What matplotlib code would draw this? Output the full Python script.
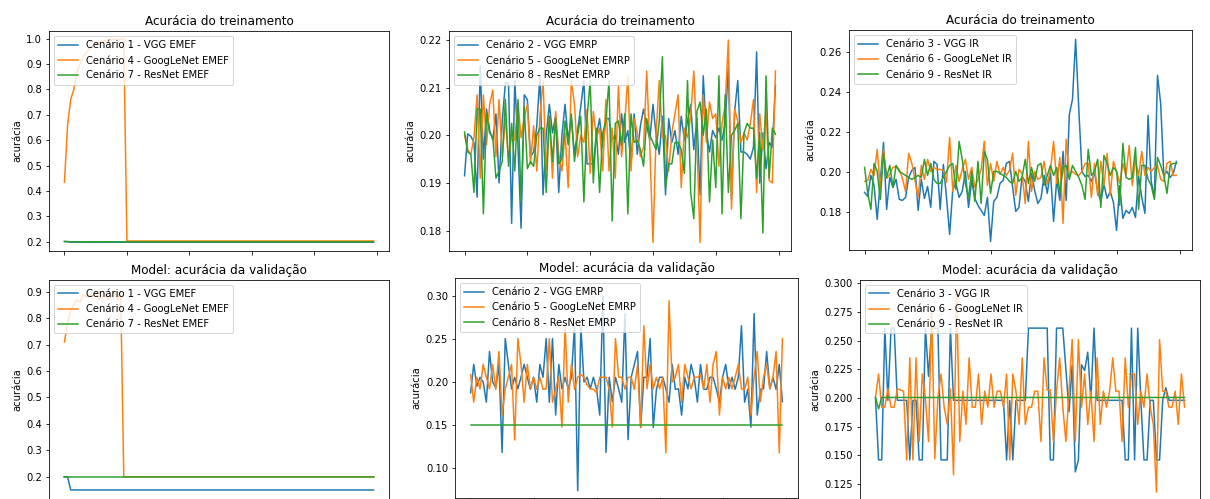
import matplotlib

matplotlib.use("Agg")
import matplotlib.pyplot as plt

# ---- training accuracy, EMEF ----
vgg_emef_train = [0.2010, 0.2000] + [0.1985] * 98
googlenet_emef_train = [
    0.435, 0.660, 0.760, 0.800, 0.870, 0.900, 0.925, 0.945, 0.960, 0.970,
    0.980, 0.985, 0.990, 0.992, 0.995, 0.996, 0.997, 0.998, 0.999, 0.999,
] + [0.2035] * 80
resnet_emef_train = [0.2020, 0.2015, 0.2005] + [0.2000] * 97

# ---- training accuracy, EMRP ----
vgg_emrp_train = [
    0.1915, 0.2003, 0.1998, 0.1985, 0.1870, 0.2145, 0.1950, 0.2055, 0.2010, 0.1990,
    0.2045, 0.1900, 0.2030, 0.2110, 0.2110, 0.1815, 0.2115, 0.1980, 0.1805, 0.2085,
    0.2075, 0.1955, 0.1965, 0.2020, 0.2125, 0.1875, 0.2000, 0.2065, 0.2005, 0.2040,
    0.1880, 0.2000, 0.2065, 0.1990, 0.2035, 0.1960, 0.2010, 0.2060, 0.2115, 0.1940,
    0.1940, 0.1940, 0.2000, 0.2035, 0.1975, 0.2035, 0.2035, 0.1990, 0.2000, 0.1960,
    0.2045, 0.1985, 0.2010, 0.1940, 0.2045, 0.1960, 0.2020, 0.2055, 0.2020, 0.1990,
    0.2065, 0.2000, 0.1960, 0.2040, 0.1875, 0.2035, 0.1985, 0.2010, 0.1960, 0.2040,
    0.1990, 0.2030, 0.2065, 0.1970, 0.2035, 0.1875, 0.2125, 0.2005, 0.1965, 0.2010,
    0.1995, 0.2015, 0.1990, 0.2025, 0.2145, 0.1865, 0.2050, 0.2115, 0.1965, 0.1965,
    0.1960, 0.1950, 0.1975, 0.2175, 0.1900, 0.2005, 0.1930, 0.1985, 0.1975, 0.2105,
]
googlenet_emrp_train = [
    0.2000, 0.1970, 0.1960, 0.1995, 0.2085, 0.1910, 0.2085, 0.1980, 0.2065, 0.2095,
    0.1955, 0.2075, 0.1955, 0.2035, 0.1950, 0.2000, 0.1990, 0.2070, 0.1995, 0.2035,
    0.2065, 0.1940, 0.2020, 0.1925, 0.2040, 0.2115, 0.1925, 0.2040, 0.1910, 0.2050,
    0.1960, 0.1925, 0.2005, 0.1890, 0.2115, 0.2065, 0.1955, 0.2000, 0.1985, 0.2055,
    0.1920, 0.2050, 0.1995, 0.2015, 0.1925, 0.2075, 0.1925, 0.2015, 0.1910, 0.2105,
    0.1955, 0.2025, 0.2125, 0.1925, 0.2035, 0.2005, 0.1955, 0.1975, 0.2135, 0.1975,
    0.1775, 0.2005, 0.2115, 0.1995, 0.2000, 0.1925, 0.2005, 0.2045, 0.2085, 0.1890,
    0.2015, 0.1995, 0.2040, 0.2135, 0.1985, 0.1775, 0.2085, 0.1985, 0.2070, 0.2035,
    0.2045, 0.1935, 0.2025, 0.2065, 0.2200, 0.1845, 0.2055, 0.2030, 0.1985, 0.2005,
    0.1990, 0.2025, 0.2075, 0.1880, 0.2045, 0.1970, 0.2055, 0.1905, 0.1900, 0.2135,
]
resnet_emrp_train = [
    0.2007, 0.1965, 0.1960, 0.1880, 0.2055, 0.2055, 0.1835, 0.2045, 0.2005, 0.1995,
    0.1910, 0.1925, 0.1945, 0.2075, 0.1935, 0.2025, 0.1925, 0.2075, 0.1860, 0.2060,
    0.1930, 0.1945, 0.1935, 0.2000, 0.2015, 0.2015, 0.1880, 0.2040, 0.1945, 0.2035,
    0.1940, 0.1950, 0.2030, 0.1980, 0.2045, 0.1945, 0.2000, 0.2040, 0.1860, 0.2035,
    0.2115, 0.1900, 0.2015, 0.1880, 0.2005, 0.2030, 0.2115, 0.1820, 0.2025, 0.2030,
    0.1980, 0.2045, 0.1835, 0.2045, 0.1985, 0.1990, 0.1970, 0.1935, 0.2035, 0.2000,
    0.1985, 0.1970, 0.2030, 0.2165, 0.1890, 0.1940, 0.1940, 0.1985, 0.1985, 0.1970,
    0.1920, 0.2115, 0.1880, 0.1825, 0.2050, 0.2070, 0.2000, 0.2055, 0.1860, 0.1990,
    0.1890, 0.2125, 0.1835, 0.2085, 0.1880, 0.2000, 0.2010, 0.2025, 0.1825, 0.2005,
    0.2025, 0.2015, 0.2015, 0.1910, 0.2005, 0.1795, 0.2125, 0.1910, 0.2015, 0.2002,
]

# ---- training accuracy, IR ----
vgg_ir_train = [
    0.1900, 0.1880, 0.1985, 0.1935, 0.1765, 0.1960, 0.2150, 0.1815, 0.1975, 0.1925,
    0.1965, 0.1865, 0.1860, 0.1875, 0.1975, 0.2010, 0.2025, 0.1810, 0.1965, 0.1870,
    0.1930, 0.1825, 0.2055, 0.2040, 0.1815, 0.2040, 0.1875, 0.1690, 0.1915, 0.1945,
    0.1875, 0.1905, 0.2005, 0.1825, 0.1960, 0.1870, 0.1835, 0.1810, 0.1785, 0.1875,
    0.1655, 0.1855, 0.1875, 0.1945, 0.1960, 0.2045, 0.2055, 0.1925, 0.1805, 0.1825,
    0.1980, 0.1955, 0.1855, 0.1995, 0.1910, 0.1845, 0.1870, 0.1985, 0.1895, 0.2005,
    0.1755, 0.1965, 0.1860, 0.2105, 0.1860, 0.2290, 0.2365, 0.2665, 0.2320, 0.2005,
    0.1980, 0.1985, 0.1955, 0.2000, 0.1905, 0.1855, 0.1940, 0.1870, 0.1905, 0.1850,
    0.1710, 0.1935, 0.1770, 0.1810, 0.1795, 0.1825, 0.1775, 0.1980, 0.1875, 0.1795,
    0.2285, 0.1955, 0.1875, 0.2485, 0.2345, 0.1985, 0.2005, 0.1975, 0.1995, 0.2055,
]
googlenet_ir_train = [
    0.1955, 0.1960, 0.2015, 0.1985, 0.2115, 0.1920, 0.2115, 0.1970, 0.1990, 0.2025,
    0.2030, 0.2015, 0.1970, 0.1905, 0.2095, 0.2045, 0.1960, 0.1875, 0.2035, 0.1965,
    0.2065, 0.2005, 0.2025, 0.2015, 0.2015, 0.2010, 0.1950, 0.2175, 0.1905, 0.2035,
    0.1955, 0.2015, 0.2065, 0.1965, 0.2025, 0.1925, 0.1965, 0.2015, 0.2155, 0.1935,
    0.2045, 0.1955, 0.2055, 0.1990, 0.2025, 0.1985, 0.2010, 0.2095, 0.1885, 0.2015,
    0.1995, 0.1845, 0.2155, 0.1905, 0.2005, 0.1965, 0.1975, 0.2055, 0.1940, 0.2010,
    0.2155, 0.1945, 0.2075, 0.1745, 0.2165, 0.1985, 0.2005, 0.1990, 0.1985, 0.2005,
    0.2045, 0.2045, 0.1875, 0.2045, 0.1885, 0.2055, 0.1935, 0.2095, 0.1885, 0.2055,
    0.2005, 0.1945, 0.2045, 0.1985, 0.2135, 0.1935, 0.2065, 0.1985, 0.2105, 0.1985,
    0.2025, 0.2005, 0.2025, 0.2035, 0.1965, 0.1955, 0.2045, 0.2055, 0.1985, 0.1985,
]
resnet_ir_train = [
    0.2025, 0.1895, 0.1815, 0.2045, 0.2005, 0.1865, 0.2095, 0.1975, 0.2035, 0.1925,
    0.2035, 0.2005, 0.1995, 0.1985, 0.1975, 0.1965, 0.1975, 0.1985, 0.1975, 0.2065,
    0.1985, 0.2045, 0.1965, 0.1945, 0.1945, 0.1975, 0.2005, 0.2035, 0.2045, 0.1915,
    0.2155, 0.2065, 0.1945, 0.1875, 0.2005, 0.1855, 0.2055, 0.1845, 0.2105, 0.2065,
    0.1895, 0.2005, 0.2005, 0.1995, 0.1985, 0.1975, 0.1955, 0.1945, 0.2005, 0.1955,
    0.1975, 0.2065, 0.1945, 0.2025, 0.1955, 0.2035, 0.2045, 0.1935, 0.1985, 0.2035,
    0.1985, 0.2025, 0.1895, 0.2025, 0.2035, 0.1965, 0.2035, 0.2005, 0.1975, 0.1935,
    0.1865, 0.2115, 0.1985, 0.2005, 0.2065, 0.1825, 0.2085, 0.2045, 0.1985, 0.2025,
    0.2005, 0.1835, 0.2145, 0.1975, 0.1965, 0.1975, 0.2125, 0.1815, 0.2035, 0.2035,
    0.1965, 0.1935, 0.1865, 0.2075, 0.2035, 0.1985, 0.1895, 0.2035, 0.2045, 0.2045,
]

# ---- validation accuracy, EMEF ----
vgg_emef_val = [0.2000, 0.2000] + [0.1500] * 98
googlenet_emef_val = [
    0.710, 0.780, 0.830, 0.850, 0.870, 0.860, 0.890, 0.880, 0.890, 0.880,
    0.900, 0.870, 0.880, 0.890, 0.870, 0.880, 0.900, 0.870, 0.900,
] + [0.2000] * 81
resnet_emef_val = [0.2000] * 100

# ---- validation accuracy, EMRP ----
vgg_emrp_val = [
    0.1875, 0.2205, 0.1950, 0.2055, 0.2000, 0.1765, 0.2355, 0.2000, 0.1935, 0.2205,
    0.1180, 0.2505, 0.2205, 0.1920, 0.2055, 0.1920, 0.2055, 0.2205, 0.2055, 0.1915,
    0.2055, 0.1765, 0.2205, 0.2055, 0.2505, 0.1765, 0.2505, 0.1615, 0.2205, 0.1920,
    0.2055, 0.1920, 0.2055, 0.2655, 0.0735, 0.2655, 0.2000, 0.2055, 0.1920, 0.2055,
    0.1915, 0.1615, 0.3000, 0.1180, 0.2055, 0.1770, 0.2055, 0.1920, 0.1765, 0.2795,
    0.1330, 0.2055, 0.2205, 0.2355, 0.1470, 0.2055, 0.2055, 0.2505, 0.1470, 0.1915,
    0.2055, 0.2055, 0.1920, 0.1765, 0.2205, 0.1915, 0.1920, 0.1615, 0.2055, 0.1920,
    0.2205, 0.2055, 0.1765, 0.2205, 0.1915, 0.1915, 0.2055, 0.2055, 0.1920, 0.1765,
    0.2055, 0.2205, 0.1920, 0.2055, 0.1915, 0.2055, 0.2655, 0.1765, 0.1915, 0.1475,
    0.2795, 0.1615, 0.1915, 0.1920, 0.2355, 0.1920, 0.2055, 0.1915, 0.2205, 0.1770,
]
googlenet_emrp_val = [
    0.2085, 0.1765, 0.2055, 0.1920, 0.2205, 0.2055, 0.1920, 0.2205, 0.1915, 0.2355,
    0.1615, 0.1920, 0.2055, 0.2205, 0.1325, 0.2505, 0.2205, 0.1765, 0.2205, 0.1920,
    0.2055, 0.1915, 0.2055, 0.1915, 0.1920, 0.2505, 0.1765, 0.1920, 0.2055, 0.1475,
    0.2655, 0.1765, 0.2205, 0.1915, 0.2055, 0.2085, 0.2055, 0.1965, 0.1920, 0.1915,
    0.1875, 0.2055, 0.2055, 0.2055, 0.1915, 0.1475, 0.2505, 0.2055, 0.2055, 0.1915,
    0.2055, 0.2055, 0.1915, 0.2205, 0.1475, 0.2655, 0.1920, 0.2205, 0.1920, 0.2055,
    0.1920, 0.2055, 0.1175, 0.2945, 0.2000, 0.2055, 0.2205, 0.1765, 0.2205, 0.2055,
    0.1920, 0.2055, 0.2055, 0.2085, 0.1920, 0.2205, 0.1765, 0.2205, 0.2355, 0.1615,
    0.2055, 0.1920, 0.2055, 0.1920, 0.2055, 0.2205, 0.1920, 0.1915, 0.2055, 0.1615,
    0.2055, 0.2355, 0.1770, 0.2055, 0.2205, 0.1920, 0.2055, 0.2355, 0.1175, 0.2505,
]
resnet_emrp_val = [0.1500] * 100

# ---- validation accuracy, IR ----
vgg_ir_val = [
    0.2005, 0.1460, 0.1460, 0.2610, 0.1980, 0.2610, 0.2610, 0.1980, 0.1980, 0.1980,
    0.1980, 0.1460, 0.1980, 0.1980, 0.1460, 0.1460, 0.2610, 0.2190, 0.2610, 0.2610,
    0.2610, 0.1460, 0.1460, 0.1460, 0.2610, 0.1980, 0.1980, 0.1980, 0.1980, 0.1980,
    0.1980, 0.1980, 0.1980, 0.1980, 0.1980, 0.1980, 0.1980, 0.1980, 0.1980, 0.1980,
    0.1980, 0.1980, 0.1460, 0.1980, 0.1460, 0.1980, 0.1980, 0.1980, 0.1980, 0.2610,
    0.2610, 0.2610, 0.2610, 0.2610, 0.2610, 0.2610, 0.1460, 0.1460, 0.2610, 0.2610,
    0.2610, 0.2250, 0.1880, 0.2285, 0.1355, 0.1460, 0.2290, 0.2240, 0.2400, 0.1980,
    0.2610, 0.1980, 0.1980, 0.1980, 0.1980, 0.1980, 0.1980, 0.1980, 0.1980, 0.1980,
    0.1460, 0.1460, 0.2610, 0.1460, 0.2610, 0.1980, 0.1460, 0.1460, 0.1980, 0.1980,
    0.1460, 0.1460, 0.1980, 0.2090, 0.1980, 0.1980, 0.1980, 0.1980, 0.1980, 0.1980,
]
googlenet_ir_val = [
    0.2005, 0.2210, 0.1920, 0.1920, 0.2080, 0.1920, 0.1920, 0.2080, 0.2070, 0.2060,
    0.1460, 0.2350, 0.1460, 0.2350, 0.1620, 0.2210, 0.2000, 0.1620, 0.2770, 0.1470,
    0.2000, 0.2210, 0.1920, 0.1770, 0.2080, 0.1330, 0.2930, 0.1620, 0.2060, 0.1770,
    0.2350, 0.1920, 0.1920, 0.2210, 0.1770, 0.2060, 0.1920, 0.2210, 0.1920, 0.2060,
    0.2060, 0.1920, 0.2210, 0.1460, 0.2210, 0.2060, 0.1770, 0.2350, 0.1770, 0.1920,
    0.1920, 0.2060, 0.2060, 0.1620, 0.2350, 0.2070, 0.2070, 0.1620, 0.2060, 0.2350,
    0.1920, 0.1620, 0.2060, 0.2510, 0.1620, 0.2510, 0.1920, 0.2210, 0.1770, 0.2060,
    0.1620, 0.2350, 0.1770, 0.2060, 0.1920, 0.2060, 0.2350, 0.2060, 0.2060, 0.1620,
    0.2350, 0.1920, 0.2210, 0.2210, 0.1770, 0.2060, 0.1920, 0.2210, 0.1920, 0.1770,
    0.1180, 0.2510, 0.2060, 0.2060, 0.1920, 0.1920, 0.2060, 0.1770, 0.2210, 0.1920,
]
resnet_ir_val = [0.2005, 0.1905] + [0.2005] * 98

# panel layout: title, series, legend labels, ylim, axes box in pixels (left, top, right, bottom)
FIG_W, FIG_H = 1210, 499
TRAIN_TITLE = "Acurácia do treinamento"
VAL_TITLE = "Model: acurácia da validação"

panels = [
    (TRAIN_TITLE,
     [vgg_emef_train, googlenet_emef_train, resnet_emef_train],
     ["Cenário 1 - VGG EMEF", "Cenário 4 - GoogLeNet EMEF", "Cenário 7 - ResNet EMEF"],
     (0.164, 1.03), (49, 31, 389, 251)),
    (TRAIN_TITLE,
     [vgg_emrp_train, googlenet_emrp_train, resnet_emrp_train],
     ["Cenário 2 - VGG EMRP", "Cenário 5 - GoogLeNet EMRP", "Cenário 8 - ResNet EMRP"],
     (0.1757, 0.2219), (449, 31, 791, 251)),
    (TRAIN_TITLE,
     [vgg_ir_train, googlenet_ir_train, resnet_ir_train],
     ["Cenário 3 - VGG IR", "Cenário 6 - GoogLeNet IR", "Cenário 9 - ResNet IR"],
     (0.1612, 0.2712), (849, 30, 1192, 250)),
    (VAL_TITLE,
     [vgg_emef_val, googlenet_emef_val, resnet_emef_val],
     ["Cenário 1 - VGG EMEF", "Cenário 4 - GoogLeNet EMEF", "Cenário 7 - ResNet EMEF"],
     (0.112, 0.944), (49, 280, 389, 500)),
    (VAL_TITLE,
     [vgg_emrp_val, googlenet_emrp_val, resnet_emrp_val],
     ["Cenário 2 - VGG EMRP", "Cenário 5 - GoogLeNet EMRP", "Cenário 8 - ResNet EMRP"],
     (0.065, 0.321), (455, 278, 798, 498)),
    (VAL_TITLE,
     [vgg_ir_val, googlenet_ir_val, resnet_ir_val],
     ["Cenário 3 - VGG IR", "Cenário 6 - GoogLeNet IR", "Cenário 9 - ResNet IR"],
     (0.111, 0.303), (860, 280, 1200, 500)),
]

fig = plt.figure(figsize=(FIG_W / 72, FIG_H / 72), dpi=72)

for title, series, labels, ylim, box in panels:
    x0, y0, x1, y1 = box
    ax = fig.add_axes([x0 / FIG_W, 1 - y1 / FIG_H, (x1 - x0) / FIG_W, (y1 - y0) / FIG_H])
    for values, label in zip(series, labels):
        ax.plot(range(len(values)), values, label=label)
    ax.set_title(title)
    ax.set_ylabel("acurácia")
    ax.set_ylim(*ylim)
    ax.set_xticks([0, 20, 40, 60, 80, 100])
    # x tick labels fall outside the cropped frame in the reference
    ax.tick_params(axis="x", labelbottom=False)
    ax.legend(loc="upper left")

fig.savefig("out.png", dpi=72)
